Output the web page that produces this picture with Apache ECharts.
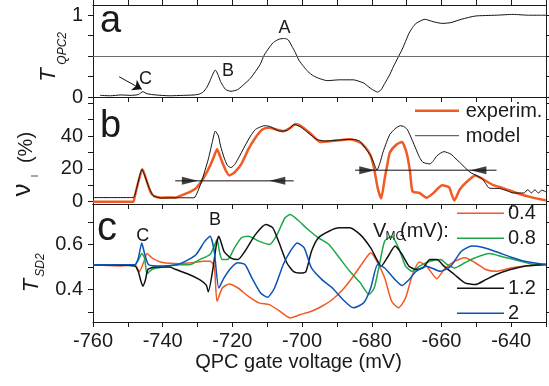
<!DOCTYPE html>
<html><head><meta charset="utf-8">
<script src="https://cdn.jsdelivr.net/npm/echarts@6/dist/echarts.min.js"></script>
<style>html,body{margin:0;padding:0;background:#fff}#c{width:549px;height:386px}</style>
</head><body><div id="c"></div>
<script>
// ---------- data ----------
const xTicks = [-760,-750,-740,-730,-720,-710,-700,-690,-680,-670,-660,-650,-640,-630];
const xLabels = [-760,-740,-720,-700,-680,-660,-640];
const aTicks = [0,0.25,0.5,0.75,1];
const aLabels = [0,1];
const bTicks = [0,10,20,30,40,50,60];
const bLabels = [0,20,40];
const cTicks = [0.3,0.4,0.5,0.6,0.7];
const cLabels = [0.4,0.6];
const aRef = 0.5;

// panel a: T_QPC2 vs gate voltage
const aTrace = [[-758,0.02],[-755,0.015],[-752,0.025],[-749,0.02],[-747,0.03],[-745.7,0.065],[-744.5,0.04],[-742,0.025],[-738,0.015],[-734,0.02],[-731,0.025],[-729.5,0.035],[-728.4,0.06],[-727.3,0.12],[-726.4,0.2],[-725.6,0.28],[-724.9,0.33],[-724.2,0.28],[-723.4,0.19],[-722.6,0.13],[-721.9,0.09],[-720.4,0.07],[-718.5,0.09],[-716.4,0.165],[-714.8,0.23],[-713.4,0.31],[-712,0.4],[-710.9,0.51],[-709.5,0.6],[-708.4,0.66],[-707.4,0.69],[-706.4,0.71],[-705,0.715],[-704,0.7],[-702.9,0.62],[-701.9,0.54],[-700.9,0.45],[-699.5,0.37],[-698.3,0.31],[-696.8,0.26],[-695.3,0.23],[-692.8,0.2],[-689.3,0.21],[-685.3,0.21],[-682.3,0.17],[-680.8,0.12],[-679.8,0.09],[-678.3,0.06],[-677.3,0.09],[-676.3,0.165],[-675,0.26],[-673.8,0.37],[-672.5,0.48],[-671.3,0.58],[-670.3,0.68],[-669.3,0.78],[-668.3,0.85],[-667.3,0.9],[-664.8,0.95],[-662.3,0.92],[-659.8,0.9],[-657.3,0.91],[-654.3,0.95],[-650.3,0.99],[-644.3,1.0],[-639.4,1.01],[-635,1.0],[-632.2,1.0],[-630,1.0]];
const arrowA = [[-752.5,0.248],[-746,0.094]];

// panel b: nu_I (%)
const bExp = [[-760,0],[-748.5,0],[-748,3.4],[-747,12],[-745.8,19.8],[-744.5,12],[-743.5,6],[-742.5,3.4],[-740.4,2.4],[-738,2.6],[-736.4,2.4],[-734.4,4],[-731.9,6.3],[-730.4,8.3],[-728.4,14],[-726.4,22],[-725.2,28],[-724.4,32],[-723.6,28],[-722.9,24],[-721.9,19],[-720.9,16],[-719.4,17.8],[-717.4,23],[-715.4,32],[-713.4,39],[-711.4,44],[-709.4,45],[-707.4,44],[-705.4,43],[-703.4,45],[-701.9,47.3],[-699.9,45.5],[-697.3,41],[-694.8,36.4],[-691.3,37],[-686.3,38],[-683.3,36],[-681.8,33],[-680.8,30],[-680,26],[-679.3,20],[-678.3,8.3],[-677.3,2],[-676.3,14],[-675.5,23],[-674.8,30],[-672.8,35],[-671.3,36.4],[-670.5,33],[-669.8,28],[-669,18],[-668.3,6.3],[-666.3,5.3],[-664.3,2.4],[-662.3,5.3],[-659.8,10],[-657.8,8.7],[-657,4],[-656.3,0.8],[-654.8,7.3],[-652.8,12],[-650.3,16],[-648.3,14],[-645.3,10.3],[-642.3,8.3],[-638.4,5.3],[-634.4,2.8],[-630,0.8]];
const bModel = [[-760,2.5],[-748.5,2.5],[-747.5,8],[-746.7,15],[-746,19.8],[-745,15],[-744,9],[-743,4.5],[-742.5,3.4],[-740.4,2.2],[-736,2.4],[-731,2.4],[-730,6],[-728.9,12],[-726.9,26],[-725.8,36],[-724.9,43],[-724,40],[-723.4,34],[-722.4,27],[-721.4,22],[-720.4,20.8],[-719.4,22.5],[-718.4,26],[-716.4,34],[-714.8,40],[-713.4,44],[-712,45.5],[-710.9,46.3],[-709.5,46],[-708.4,45],[-706.4,43],[-704.4,43.4],[-703.4,45],[-702.4,47],[-701.4,46.5],[-700.4,45.5],[-698.3,42],[-695.8,38],[-693.3,37],[-689.3,37.6],[-685.3,38],[-683.5,37],[-682.3,34],[-681.3,31],[-680.3,28],[-679.3,23],[-678.5,19.2],[-677.6,24],[-676.8,30],[-675.8,36],[-674.8,41],[-673.3,44.5],[-671.8,46.3],[-670.8,45.8],[-669.8,44],[-668.5,38],[-667.3,32],[-666.3,27],[-665.3,24],[-663.3,23],[-662.3,25],[-661.3,28],[-659.3,30.5],[-657.3,29],[-655.8,26],[-654.8,24],[-651.8,18],[-650,16],[-648.3,14],[-647.3,11],[-646.3,8.3],[-643.3,8],[-641,6.5],[-639.4,5.3],[-636.4,5.3],[-635.2,7.3],[-634.2,5.3],[-633.2,7.3],[-632.2,5.3],[-631.2,7],[-630,6]];
const bRange1 = [[-736.4,12.7],[-702.4,12.7]];
const bRange2 = [[-684.8,19.2],[-644.2,19.2]];
const bHeadsRight = [[-732.2,12.7],[-681.3,19.2]];
const bHeadsLeft = [[-707.1,12.7],[-649.4,19.2]];

// panel c: T_SD2 for V_MG values
const cNames = ['0.4','0.8','1.2','2'];
const c04 = [[-760,0.51],[-752,0.505],[-748,0.51],[-746.7,0.48],[-745.5,0.52],[-744.5,0.56],[-743,0.54],[-740,0.52],[-735,0.515],[-731,0.52],[-728.4,0.526],[-726.4,0.526],[-725.2,0.504],[-724.4,0.348],[-722.9,0.407],[-720.9,0.425],[-718.4,0.407],[-715.4,0.37],[-712.4,0.341],[-709.4,0.333],[-706.4,0.304],[-703.4,0.274],[-700.4,0.289],[-697.3,0.304],[-694.3,0.326],[-691.3,0.356],[-688.3,0.4],[-685.3,0.459],[-682.3,0.526],[-680.3,0.563],[-678.3,0.519],[-676.3,0.452],[-674.3,0.348],[-672.3,0.319],[-670.3,0.363],[-668.3,0.467],[-666.3,0.522],[-664.3,0.505],[-661.3,0.448],[-659.3,0.489],[-656.3,0.525],[-653.3,0.541],[-650.3,0.519],[-647.3,0.489],[-644.3,0.481],[-640.2,0.496],[-636.2,0.504],[-630,0.511]];
const c08 = [[-760,0.51],[-748,0.51],[-747,0.53],[-746,0.56],[-745.2,0.54],[-744.5,0.47],[-743,0.49],[-740,0.5],[-735,0.51],[-732.4,0.51],[-729.4,0.533],[-726.4,0.556],[-725.3,0.59],[-724.4,0.622],[-723.6,0.56],[-722.9,0.533],[-721.4,0.533],[-719.4,0.585],[-717.4,0.63],[-715.4,0.637],[-712.4,0.615],[-709.4,0.6],[-707.4,0.637],[-704.9,0.719],[-703.4,0.733],[-701.4,0.711],[-698.3,0.667],[-695.3,0.63],[-692.3,0.6],[-689.3,0.541],[-686.3,0.481],[-683.3,0.43],[-680.8,0.378],[-679.3,0.407],[-677.8,0.511],[-676.3,0.615],[-674.3,0.637],[-672.3,0.585],[-670.3,0.504],[-668.3,0.481],[-666.3,0.504],[-663.3,0.526],[-660.3,0.533],[-658.3,0.511],[-656.3,0.496],[-653.3,0.519],[-650.3,0.541],[-646.3,0.56],[-642.3,0.545],[-638.3,0.53],[-634.3,0.514],[-630,0.511]];
const c12 = [[-760,0.51],[-748,0.505],[-747,0.48],[-746.3,0.44],[-745.7,0.415],[-745,0.44],[-744.2,0.49],[-742,0.5],[-738,0.5],[-736.4,0.49],[-732.4,0.467],[-729.4,0.444],[-727.5,0.42],[-726.9,0.39],[-725.5,0.5],[-724.6,0.6],[-723.9,0.637],[-722.4,0.57],[-720.4,0.54],[-718.4,0.533],[-716.4,0.57],[-713.4,0.644],[-710.4,0.689],[-708.4,0.674],[-706.4,0.6],[-704.4,0.519],[-702.4,0.48],[-700.4,0.474],[-698.9,0.48],[-697.3,0.57],[-695.3,0.63],[-692.3,0.659],[-689.3,0.674],[-686.3,0.674],[-683.3,0.644],[-680.3,0.585],[-678.8,0.541],[-677.3,0.504],[-675.3,0.548],[-673.3,0.593],[-671.3,0.556],[-669.3,0.504],[-667.3,0.489],[-665.3,0.496],[-663.3,0.533],[-661.3,0.533],[-659.3,0.504],[-656.3,0.467],[-653.3,0.43],[-650.3,0.422],[-647.3,0.444],[-644.3,0.467],[-640.2,0.489],[-636.2,0.504],[-630,0.511]];
const c20 = [[-760,0.51],[-748,0.51],[-747,0.54],[-746,0.607],[-745.2,0.56],[-744,0.51],[-740,0.505],[-736,0.51],[-733.4,0.526],[-730.4,0.556],[-727.9,0.615],[-726.4,0.637],[-725.2,0.57],[-723.9,0.407],[-722.4,0.452],[-720.4,0.496],[-718.4,0.519],[-716.4,0.511],[-714.4,0.452],[-711.9,0.385],[-709.9,0.366],[-707.9,0.407],[-705.4,0.511],[-703.4,0.57],[-701.4,0.607],[-699.4,0.585],[-697.3,0.496],[-694.3,0.444],[-691.3,0.407],[-688.3,0.356],[-685.3,0.319],[-682.3,0.341],[-680.3,0.407],[-678.3,0.511],[-676.3,0.496],[-673.3,0.444],[-671.3,0.418],[-669.3,0.444],[-667.3,0.481],[-664.3,0.504],[-660.3,0.481],[-657.3,0.504],[-654.3,0.57],[-651.3,0.593],[-648.3,0.588],[-644.3,0.568],[-640.2,0.545],[-636.2,0.526],[-630,0.511]];

// ---------- style ----------
const FF = 'Liberation Sans, Arial, sans-serif';
const INK = '#1a1a1a';
const ORANGE = '#f15a24', GREEN = '#1fa64a', BLUE = '#0b52b5', BLACK = '#111111';

function xAx(gi, pos, ticks, labels) {
  return {type:'value', gridIndex:gi, position:pos, min:-760, max:-630,
    splitLine:{show:false},
    axisLine:{show:true, onZero:false, lineStyle:{color:INK, width:1}},
    axisTick:{show:ticks, inside:false, length:5, customValues:xTicks, lineStyle:{color:INK}},
    axisLabel:{show:labels, customValues:xLabels, margin:9, fontSize:20, color:INK, fontFamily:FF}};
}
function yAx(gi, pos, min, max, ticks, labels, showLabels) {
  return {type:'value', gridIndex:gi, position:pos, min:min, max:max,
    splitLine:{show:false},
    axisLine:{show:true, onZero:false, lineStyle:{color:INK, width:1}},
    axisTick:{show:true, inside:false, length: pos==='left'?5:3, customValues:ticks, lineStyle:{color:INK}},
    axisLabel:{show:showLabels, customValues:labels, margin:10, fontSize:20, color:INK, fontFamily:FF,
      formatter: v => String(v)}};
}
function txt(x, y, text, size, opts) {
  opts = opts || {};
  return {type:'text', x:x, y:y, z:100, rotation: opts.rot || 0,
    style:{text:text, fontSize:size, fontFamily:FF, fontStyle: opts.italic?'italic':'normal',
      fill: INK, align: opts.align || 'center', verticalAlign:'middle'}};
}
function seg(x1, y1, x2, y2, color, w) {
  return {type:'line', z:100, shape:{x1:x1,y1:y1,x2:x2,y2:y2}, style:{stroke:color, lineWidth:w}};
}
const R = Math.PI/2;

const chart = echarts.init(document.getElementById('c'), null, {renderer:'canvas'});
chart.setOption({
  animation:false,
  backgroundColor:'#fff',
  grid:[
    {left:93, right:3, top:5, height:92},
    {left:93, right:3, top:97, height:107},
    {left:93, right:3, top:204, height:118}
  ],
  xAxis:[
    xAx(0,'bottom',true,false), xAx(0,'top',true,false),
    xAx(1,'bottom',true,false), xAx(1,'top',false,false),
    xAx(2,'bottom',true,true),  xAx(2,'top',false,false)
  ],
  yAxis:[
    yAx(0,'left',0,1.125,aTicks,aLabels,true), yAx(0,'right',0,1.125,aTicks,aLabels,false),
    yAx(1,'left',-1.4,63.8,bTicks,bLabels,true), yAx(1,'right',-1.4,63.8,bTicks,bLabels,false),
    yAx(2,'left',0.256,0.78,cTicks,cLabels,true), yAx(2,'right',0.256,0.78,cTicks,cLabels,false)
  ],
  series:[
    {type:'line', xAxisIndex:0, yAxisIndex:0, data:aTrace, symbol:'none', smooth:0.2,
      lineStyle:{color:BLACK, width:1},
      markLine:{silent:true, symbol:['none','none'], label:{show:false},
        lineStyle:{color:'#6b6b6b', width:1, type:'solid'}, data:[{yAxis:aRef}]}},
    {type:'line', xAxisIndex:0, yAxisIndex:0, data:[], symbol:'none',
      markLine:{silent:true, symbol:['none','arrow'], symbolSize:9, label:{show:false},
        lineStyle:{color:BLACK, width:1, type:'solid'},
        data:[[{coord:arrowA[0]},{coord:arrowA[1]}]]}},
    {type:'line', xAxisIndex:2, yAxisIndex:2, data:bExp, symbol:'none', smooth:0.2,
      lineStyle:{color:ORANGE, width:2.5}},
    {type:'line', xAxisIndex:2, yAxisIndex:2, data:bModel, symbol:'none', smooth:0.2,
      lineStyle:{color:BLACK, width:1}},
    {type:'line', xAxisIndex:2, yAxisIndex:2, data:bRange1, symbol:'none', lineStyle:{color:BLACK, width:1}},
    {type:'line', xAxisIndex:2, yAxisIndex:2, data:bRange2, symbol:'none', lineStyle:{color:BLACK, width:1}},
    {type:'scatter', xAxisIndex:2, yAxisIndex:2, data:bHeadsRight, symbol:'triangle', symbolSize:[8,16], symbolRotate:-90,
      itemStyle:{color:BLACK}, z:5},
    {type:'scatter', xAxisIndex:2, yAxisIndex:2, data:bHeadsLeft, symbol:'triangle', symbolSize:[8,16], symbolRotate:90,
      itemStyle:{color:BLACK}, z:5},
    {type:'line', name:cNames[0], xAxisIndex:4, yAxisIndex:4, data:c04, symbol:'none', smooth:0.2, lineStyle:{color:ORANGE, width:1.5}},
    {type:'line', name:cNames[1], xAxisIndex:4, yAxisIndex:4, data:c08, symbol:'none', smooth:0.2, lineStyle:{color:GREEN, width:1.5}},
    {type:'line', name:cNames[2], xAxisIndex:4, yAxisIndex:4, data:c12, symbol:'none', smooth:0.2, lineStyle:{color:BLACK, width:1.5}},
    {type:'line', name:cNames[3], xAxisIndex:4, yAxisIndex:4, data:c20, symbol:'none', smooth:0.2, lineStyle:{color:BLUE, width:1.5}}
  ],
  graphic:[
    // panel letters
    txt(100, 22, 'a', 38, {align:'left'}),
    txt(100, 127, 'b', 38, {align:'left'}),
    txt(97, 228.5, 'c', 40, {align:'left'}),
    // feature labels
    txt(284.4, 28.3, 'A', 18), txt(228, 71.5, 'B', 18), txt(145.5, 79, 'C', 18),
    txt(142.7, 235.8, 'C', 18), txt(215, 220, 'B', 18),
    // y titles
    txt(49, 75, 'T', 22, {rot:R, italic:true}), txt(62.5, 48.3, 'QPC2', 12, {rot:R, italic:true}),
    txt(22.7, 190, '\u03bd', 26, {rot:R}), txt(36, 176, 'l', 9, {rot:R}), txt(26.5, 147.5, '(%)', 20, {rot:R}),
    txt(31.7, 285.5, 'T', 22, {rot:R, italic:true}), txt(41, 265, 'SD2', 12, {rot:R, italic:true}),
    // x title
    txt(298.5, 362, 'QPC gate voltage (mV)', 20),
    // legend b
    seg(415, 110.7, 459, 110.7, ORANGE, 2.5), txt(465.7, 111, 'experim.', 20, {align:'left'}),
    seg(415, 135.7, 459, 135.7, '#444', 1), txt(465.7, 136, 'model', 20, {align:'left'}),
    // legend c
    txt(373, 231.5, 'V', 20, {align:'left'}), txt(385.5, 237, 'MG', 12, {align:'left'}), txt(400, 231.5, '(mV):', 20, {align:'left'}),
    seg(457, 213.3, 504, 213.3, ORANGE, 1.5), txt(508, 213.3, cNames[0], 20, {align:'left'}),
    seg(457, 238.3, 504, 238.3, GREEN, 1.5), txt(508, 238.3, cNames[1], 20, {align:'left'}),
    seg(457, 288.3, 504, 288.3, BLACK, 1.5), txt(508, 288.3, cNames[2], 20, {align:'left'}),
    seg(457, 313.3, 504, 313.3, BLUE, 1.5), txt(508, 313.3, cNames[3], 20, {align:'left'})
  ]
});
</script></body></html>
